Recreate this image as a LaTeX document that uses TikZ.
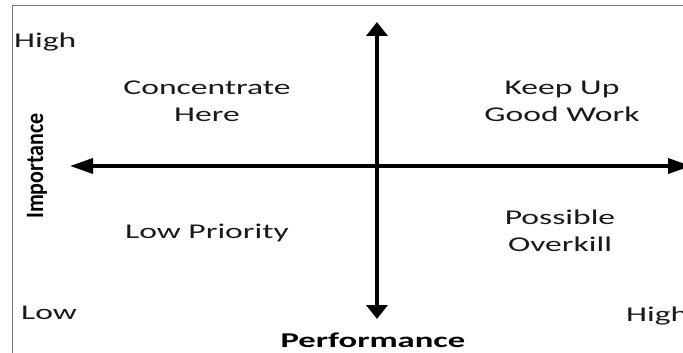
\documentclass[tikz,border=0pt]{standalone}
\usepackage{fontspec}
\usetikzlibrary{arrows.meta}
\newfontfamily\quadfont[FakeStretch=1.6]{Carlito}
\newfontfamily\perffont[FakeStretch=1.65]{Carlito}
\newfontfamily\impfont[FakeStretch=0.88]{Carlito}
\begin{document}
\begin{tikzpicture}[x=1pt,y=-1pt,
  frameline/.style={draw=black!55,line width=0.9pt},
  axis/.style={line width=3.6pt,black},
  quadlabel/.style={font=\quadfont\fontsize{21}{27}\selectfont,align=center,text=black!90,inner sep=0pt},
  endlabel/.style={font=\quadfont\fontsize{21}{24}\selectfont,text=black!90,inner sep=0pt,anchor=west},
  perflabel/.style={font=\perffont\bfseries\fontsize{21}{24}\selectfont,text=black,inner sep=0pt},
  implabel/.style={font=\impfont\bfseries\fontsize{25}{27}\selectfont,text=black,inner sep=0pt}]
  \clip (0,0) rectangle (683,353);
  % outer frame (only the top and left edges fall inside the page)
  \draw[frameline] (12.5,5) rectangle (720,380);
  % axis end points
  \coordinate (left) at (70,166);
  \coordinate (right) at (691,166);
  \coordinate (top) at (377,22);
  \coordinate (bottom) at (377,319);
  % axes
  \draw[axis,{Triangle[length=23pt,width=15pt]}-{Triangle[length=23pt,width=15pt]}] (left) -- (right);
  \draw[axis,{Triangle[length=14pt,width=21pt]}-{Triangle[length=14pt,width=21pt]}] (top) -- (bottom);
  % quadrant labels
  \node[quadlabel] (conc) at (207,101) {Concentrate\\Here};
  \node[quadlabel] (keep) at (562,101) {Keep Up\\Good Work};
  \node[quadlabel] (lowp) at (207,233) {Low Priority};
  \node[quadlabel] (over) at (560,231) {Possible\\Overkill};
  % scale ends
  \node[endlabel] (himp) at (14,42) {High};
  \node[endlabel] (lowe) at (21,313) {Low};
  \node[endlabel] (hperf) at (626,316) {High};
  % axis titles
  \node[implabel,rotate=90] (imp) at (37,166) {Importance};
  \node[perflabel] (perf) at (373,340) {Performance};
\end{tikzpicture}
\end{document}
